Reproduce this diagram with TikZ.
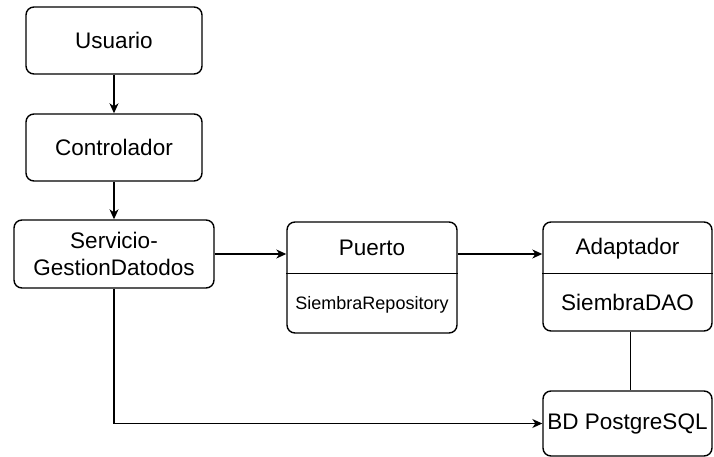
\documentclass[tikz,border=0pt]{standalone}
\usepackage{fontspec}
\setmainfont{Liberation Sans}
\usetikzlibrary{positioning, arrows.meta}

\begin{document}
\begin{tikzpicture}[x=1pt, y=-1pt, node distance=107pt, on grid,
    box/.style={draw, line width=1.4pt, rounded corners=8pt, align=center,
      inner sep=0pt, font=\fontsize{22.5}{27}\selectfont},
    txt/.style={inner sep=0pt, font=\fontsize{22.5}{27}\selectfont},
    small/.style={inner sep=0pt, font=\fontsize{18}{22}\selectfont},
    line/.style={line width=1.3pt},
    flow/.style={line, -{Stealth[length=10pt, width=9pt, inset=3pt]}}]
  \useasboundingbox (0,0) rectangle (714,457);

  % left column
  \node[box, minimum width=176pt, minimum height=67pt] (us) at (114,40.5) {Usuario};
  \node[box, minimum width=176pt, minimum height=67pt] (ctl) [below=of us] {Controlador};
  \node[box, minimum width=200pt, minimum height=68pt] (sv) at (114,254) {Servicio-\\GestionDatodos};

  % puerto
  \node[box, minimum width=170pt, minimum height=111pt] (pu) at (372,277.5) {};
  \node[txt] (put) at (372,248) {Puerto};
  \node[small] (pub) at (372,305) {SiembraRepository};
  \draw[line] ([yshift=-52pt]pu.north west) -- ([yshift=-52pt]pu.north east);

  % adaptador
  \node[box, minimum width=169pt, minimum height=109pt] (ad) at (627.5,276.5) {};
  \node[txt] (adt) at (627.5,249) {Adaptador};
  \node[txt] (adb) at (627.5,302) {SiembraDAO};
  \draw[line] ([yshift=-52pt]ad.north west) -- ([yshift=-52pt]ad.north east);

  \node[box, minimum width=169pt, minimum height=65pt] (bd) at (627.5,423.5) {BD PostgreSQL};

  \draw[flow] (us) -- (ctl);
  \draw[flow] (ctl) -- (sv);
  \draw[flow] (sv) -- (sv -| pu.west);
  \draw[flow] (sv -| pu.east) -- (sv -| ad.west);
  \draw[line] ([xshift=3pt]ad.south) -- ([xshift=3pt]bd.north);
  \draw[flow] (sv.south) |- (bd.west);
\end{tikzpicture}
\end{document}
